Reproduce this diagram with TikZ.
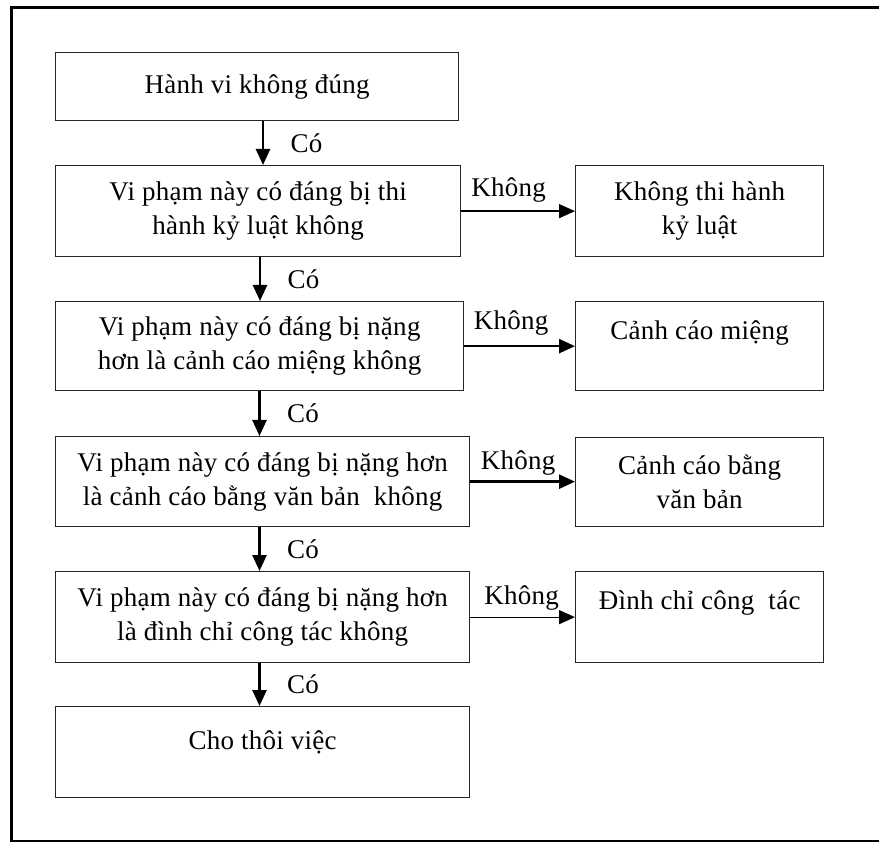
\documentclass[tikz,border=0pt]{standalone}
\usepackage{fontspec}
\setmainfont{Liberation Serif}[LetterSpace=1]
\usepackage{tikz}
\usetikzlibrary{positioning,arrows.meta}

\tikzset{
    flowbox/.style={draw=black!85, line width=1.3pt, align=center, anchor=north west,
        inner sep=0pt, font=\fontsize{27}{34}\selectfont},
    arr/.style={-{Triangle[length=16pt,width=14pt]}, line width=2.6pt},
    thinarr/.style={-{Triangle[length=16pt,width=14pt]}, line width=1.3pt},
    lbl/.style={font=\fontsize{27}{34}\selectfont},
}

\begin{document}
\begin{tikzpicture}[x=1pt,y=-1pt]
            \useasboundingbox (0,0) rectangle (879,842);
            \draw[line width=3pt] (879,7.5) -| (11,841) -- (879,841);

            % left column
            \node[flowbox, minimum width=403pt, minimum height=68pt] (hanhvi) at (55,52) {Hành vi không đúng};
            \node[flowbox, minimum width=405pt, minimum height=91pt] (q1) at (55,165) {Vi phạm này có đáng bị thi\\hành kỷ luật không};
            \node[flowbox, minimum width=408pt, minimum height=89pt] (q2) at (55,301) {Vi phạm này có đáng bị nặng\\hơn là cảnh cáo miệng không};
            \node[flowbox, minimum width=414pt, minimum height=90pt] (q3) at (55,436) {Vi phạm này có đáng bị nặng hơn\\là cảnh cáo bằng văn bản\ \ không};
            \node[flowbox, minimum width=414pt, minimum height=91pt] (q4) at (55,571) {Vi phạm này có đáng bị nặng hơn\\là đình chỉ công tác không};
            \node[flowbox, minimum width=414pt, minimum height=91pt, text depth=24pt] (thoiviec) at (55,706) {Cho thôi việc};

            % right column
            \node[flowbox, minimum width=248pt, minimum height=91pt] (r1) at (575,165) {Không thi hành\\kỷ luật};
            \node[flowbox, minimum width=248pt, minimum height=89pt, text depth=32pt] (r2) at (575,301) {Cảnh cáo miệng};
            \node[flowbox, minimum width=248pt, minimum height=89pt] (r3) at (575,437) {Cảnh cáo bằng\\văn bản};
            \node[flowbox, minimum width=248pt, minimum height=91pt, text depth=34pt] (r4) at (575,571) {Đình chỉ công\ \ tác};

            % vertical arrows
            \coordinate (c1) at (263,0);
            \coordinate (c2) at (260,0);
            \coordinate (c3) at (259.5,0);
            \draw[arr] (c1 |- hanhvi.south) -- (c1 |- q1.north) node[midway, right=23pt, lbl]{Có};
            \draw[arr] (c2 |- q1.south) -- (c2 |- q2.north) node[midway, right=23pt, lbl]{Có};
            \draw[arr] (c3 |- q2.south) -- (c3 |- q3.north) node[midway, right=23pt, lbl]{Có};
            \draw[arr] (c3 |- q3.south) -- (c3 |- q4.north) node[midway, right=23pt, lbl]{Có};
            \draw[arr] (c3 |- q4.south) -- (c3 |- thoiviec.north) node[midway, right=23pt, lbl]{Có};

            % horizontal arrows
            \draw[thinarr] (q1.east) -- (r1.west |- q1.east) node[pos=0, anchor=south west, xshift=6pt, yshift=5pt, lbl]{Không};
            \draw[arr] (q2.east) -- (r2.west |- q2.east) node[pos=0, anchor=south west, xshift=5pt, yshift=6pt, lbl]{Không};
            \draw[arr] (q3.east) -- (r3.west |- q3.east) node[pos=0, anchor=south west, xshift=6pt, yshift=2pt, lbl]{Không};
            \draw[thinarr] (q4.east) -- (r4.west |- q4.east) node[pos=0, anchor=south west, xshift=10pt, yshift=3pt, lbl]{Không};
        \end{tikzpicture}
\end{document}
